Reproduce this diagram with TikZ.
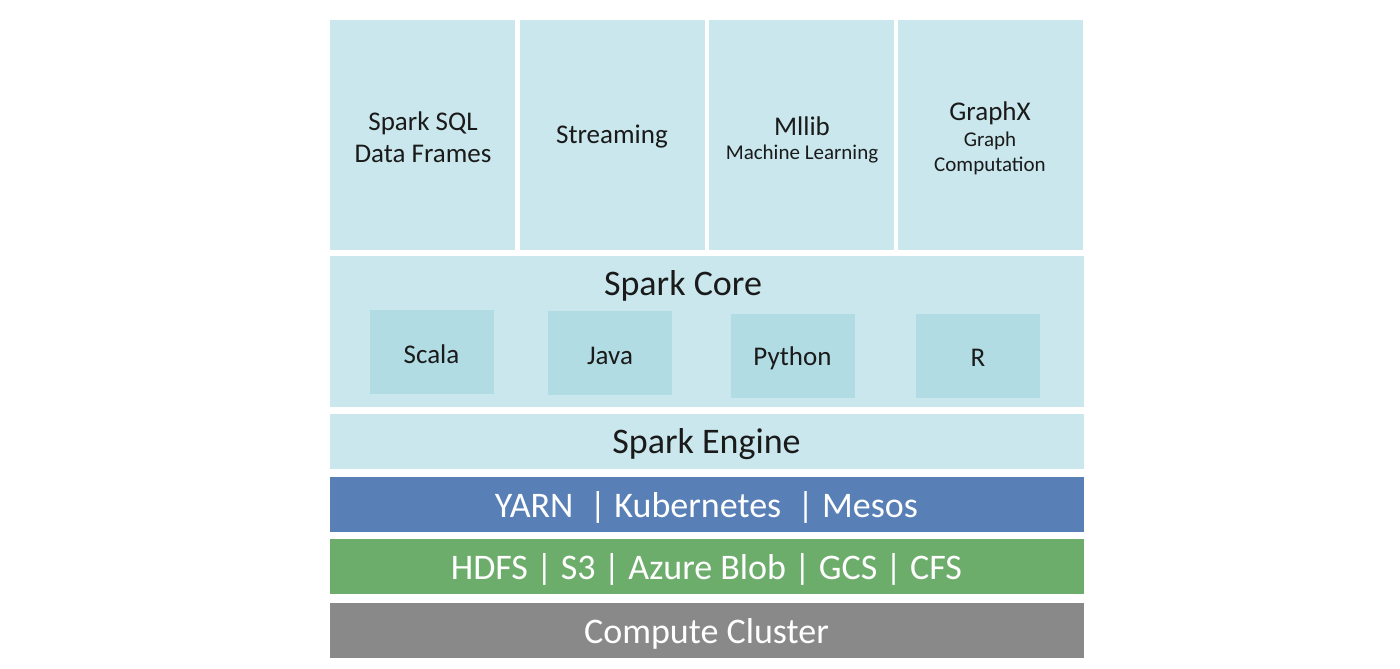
\documentclass[tikz,border=0pt]{standalone}
\usepackage{fontspec}
\setmainfont{Carlito}
\definecolor{lblue}{HTML}{C9E7EC}
\definecolor{iblue}{HTML}{B1DCE4}
\definecolor{yblue}{HTML}{5880B6}
\definecolor{ggreen}{HTML}{6DAD6B}
\definecolor{ggray}{HTML}{898989}
\definecolor{txt}{HTML}{1A1A1A}
\tikzset{
  layer/.style={draw=none, inner sep=0pt, outer sep=0pt},
  topbox/.style={layer, fill=lblue, minimum width=185pt, minimum height=230pt},
  langbox/.style={layer, fill=iblue, minimum width=124pt, minimum height=84pt},
  band/.style={layer, minimum width=754pt, minimum height=55pt},
  lbl/.style={inner sep=0pt, align=center, text=txt},
  langlbl/.style={lbl, font=\fontsize{27}{32}\selectfont},
  bandlbl/.style={lbl, font=\fontsize{36}{40}\selectfont},
}
\begin{document}
\begin{tikzpicture}[x=1pt,y=-1pt]
\useasboundingbox[fill=white] (0,0) rectangle (1400,669);
% top modules
\node[topbox] (sql) at (422.5,135) {};
\node[topbox] (stream) at (612.5,135) {};
\node[topbox] (mllib) at (801.5,135) {};
\node[topbox] (graphx) at (990.5,135) {};
\node[lbl, font=\fontsize{27}{32}\selectfont] (sqlt) at (423,137) {Spark SQL\\Data Frames};
\node[lbl, font=\fontsize{27}{32}\selectfont] (streamt) at (612,137) {Streaming};
\node[lbl, font=\fontsize{27}{30}\selectfont] (mllibt) at (802,126) {Mllib};
\node[lbl, font=\fontsize{21}{24}\selectfont] (mllibs) at (802,154) {Machine Learning};
\node[lbl, font=\fontsize{27}{30}\selectfont] (graphxt) at (990,113) {GraphX};
\node[lbl, font=\fontsize{21}{25}\selectfont] (graphxs) at (990,153.5) {Graph\\Computation};
% spark core
\node[band, fill=lblue, minimum height=151pt] (core) at (706.5,331.5) {};
\node[bandlbl] (coret) at (683,286) {Spark Core};
\node[langbox] (scala) at (431.5,351.5) {};
\node[langbox] (java) at (610,353) {};
\node[langbox] (python) at (792.5,356) {};
\node[langbox] (r) at (978,356) {};
\node[langlbl] (scalat) at (431.5,354) {Scala};
\node[langlbl] (javat) at (610,356) {Java};
\node[langlbl] (pythont) at (792.5,358) {Python};
\node[langlbl] (rt) at (978,358) {R};
% engine and below
\node[band, fill=lblue] (engine) at (706.5,441.5) {};
\node[band, fill=yblue] (yarn) at (706.5,504) {};
\node[band, fill=ggreen] (hdfs) at (706.5,566.5) {};
\node[band, fill=ggray] (cluster) at (706.5,630.5) {};
\node[bandlbl] (enginet) at (706.5,444.5) {Spark Engine};
\node[bandlbl, text=white] (yarnt) at (706.5,507) {YARN \ | Kubernetes \ | Mesos};
\node[bandlbl, text=white] (hdfst) at (706.5,569.5) {HDFS | S3 | Azure Blob | GCS | CFS};
\node[bandlbl, text=white] (clustert) at (706.5,633.5) {Compute Cluster};
\end{tikzpicture}
\end{document}
